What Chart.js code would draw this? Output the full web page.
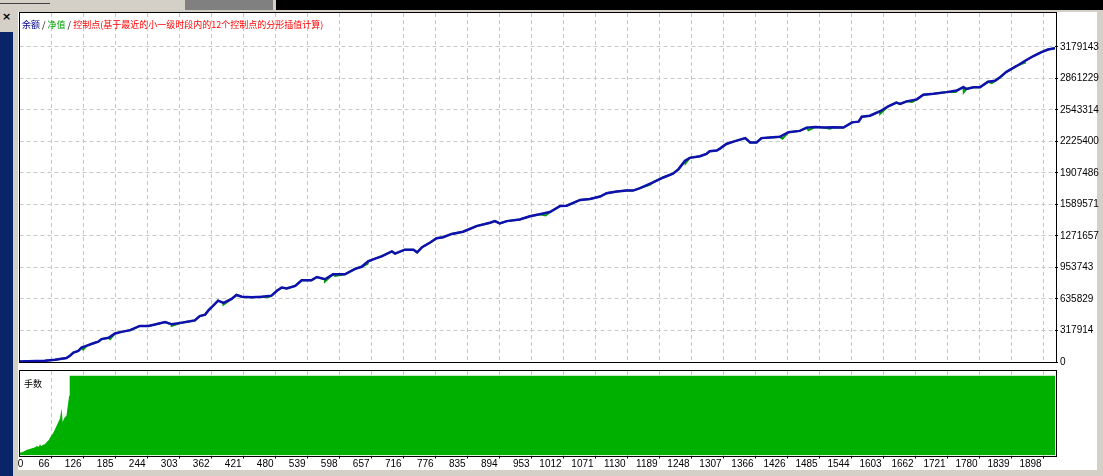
<!DOCTYPE html>
<html>
<head>
<meta charset="utf-8">
<script src="https://cdn.jsdelivr.net/npm/chart.js@4.4.1/dist/chart.umd.min.js"></script>
<style>
  html, body { margin: 0; padding: 0; }
  body { width: 1103px; height: 476px; position: relative; overflow: hidden; background: #d4d0c8; }
  .abs { position: absolute; }
  #navy { left: 0; top: 32px; width: 13px; height: 444px; background: #0a246a; }
  #close { left: 2px; top: 10px; font: bold 11px 'DejaVu Sans', sans-serif; color: #000; }
  #topLeft { left: 0; top: 0; width: 185px; height: 10px; background: #d4d0c8; }
  #topBox { left: 0; top: 0; width: 50px; height: 3px; border-bottom: 1px solid #404040; }
  #topMid { left: 185px; top: 0; width: 88px; height: 10px; background: #808080; }
  #topStrip { left: 276px; top: 0; width: 827px; height: 10px; background: #000; }
  #sheet { left: 18px; top: 12px; width: 1079px; height: 458px; background: #fff; }
  canvas { position: absolute; left: 0; }
  #main { top: 0; }
  #lots { top: 368px; }
  #title { left: 22px; top: 18px; font: 9px 'Noto Sans CJK SC', sans-serif; line-height: 13px; white-space: pre; }
  #lotsLabel { left: 24px; top: 377px; font: 9px 'Noto Sans CJK SC', sans-serif; line-height: 13px; color: #000; }
</style>
</head>
<body>
<div id="navy" class="abs"></div>
<div id="close" class="abs">×</div>
<div id="topLeft" class="abs"></div>
<div id="topBox" class="abs"></div>
<div id="topMid" class="abs"></div>
<div id="topStrip" class="abs"></div>
<div id="sheet" class="abs"></div>
<canvas id="main" width="1103" height="370"></canvas>
<canvas id="lots" width="1103" height="108"></canvas>
<div id="title" class="abs"><span style="color:#00008b">余额</span> / <span style="color:#00a000">净值</span> / <span style="color:#ff0000">控制点(基于最近的小一级时段内的12个控制点的分形插值计算)</span></div>
<div id="lotsLabel" class="abs">手数</div>
<script>
// trade-number axis
const tradeCount = 1919;
const xTickLabels = ['0', '66', '126', '185', '244', '303', '362', '421', '480', '539', '598',
  '657', '716', '776', '835', '894', '953', '1012', '1071', '1130', '1189', '1248', '1307',
  '1366', '1426', '1485', '1544', '1603', '1662', '1721', '1780', '1839', '1898'];
const xTickStep = 1898 / 32;

// balance axis
const yTickValues = [0, 317914, 635829, 953743, 1271657, 1589571, 1907486, 2225400,
  2543314, 2861229, 3179143];

// [trade, balance]
const balance = [
  [0, 5000], [47, 12900], [66, 22800], [78, 32800], [87, 39700], [94, 65600], [100, 95400],
  [109, 112000], [115, 145000], [125, 165000], [137, 189000], [146, 205000], [152, 231000],
  [165, 244000], [177, 288000], [189, 304000], [205, 321000], [223, 364000], [239, 364000],
  [251, 378000], [270, 403000], [282, 380000], [301, 397000], [316, 410000], [325, 420000],
  [334, 463000], [344, 477000], [350, 520000], [359, 569000], [368, 619000], [378, 596000],
  [393, 636000], [402, 676000], [412, 659000], [430, 652000], [449, 659000], [467, 669000],
  [477, 718000], [486, 751000], [495, 741000], [511, 768000], [523, 825000], [541, 825000],
  [551, 857000], [566, 835000], [581, 884000], [603, 884000], [622, 940000], [634, 960000],
  [646, 1016000], [659, 1043000], [671, 1066000], [690, 1116000], [696, 1093000],
  [714, 1133000], [730, 1133000], [737, 1106000], [746, 1158000], [761, 1205000],
  [773, 1248000], [785, 1258000], [801, 1292000], [822, 1314000], [847, 1371000],
  [872, 1404000], [881, 1421000], [890, 1397000], [903, 1421000], [927, 1437000],
  [946, 1470000], [964, 1490000], [983, 1513000], [1002, 1573000], [1014, 1576000],
  [1039, 1635000], [1057, 1645000], [1076, 1669000], [1088, 1702000], [1107, 1719000],
  [1125, 1729000], [1137, 1729000], [1150, 1754000], [1174, 1811000], [1193, 1861000],
  [1211, 1900000], [1221, 1943000], [1233, 2027000], [1242, 2059000], [1261, 2076000],
  [1273, 2099000], [1279, 2126000], [1292, 2132000], [1298, 2152000], [1310, 2199000],
  [1323, 2223000], [1345, 2258000], [1354, 2215000], [1366, 2215000], [1375, 2258000],
  [1391, 2265000], [1409, 2271000], [1425, 2318000], [1446, 2331000], [1459, 2364000],
  [1474, 2370000], [1490, 2364000], [1508, 2367000], [1527, 2364000], [1543, 2417000],
  [1555, 2424000], [1561, 2474000], [1576, 2484000], [1595, 2529000], [1610, 2579000],
  [1625, 2616000], [1632, 2603000], [1644, 2629000], [1663, 2649000], [1675, 2695000],
  [1694, 2705000], [1718, 2722000], [1737, 2738000], [1749, 2772000], [1755, 2755000],
  [1768, 2772000], [1780, 2772000], [1795, 2827000], [1808, 2837000], [1817, 2871000],
  [1829, 2927000], [1848, 2986000], [1863, 3036000], [1879, 3086000], [1894, 3125000],
  [1906, 3152000], [1919, 3165000]
];

// equity dips that show below the balance line [trade, equity]
const equityDips = [
  [118, 125000], [168, 230000], [282, 365000], [378, 580000], [462, 655000], [566, 812000],
  [585, 868000], [645, 990000], [975, 1478000], [1169, 1790000], [1234, 2003000],
  [1414, 2252000], [1462, 2338000], [1502, 2352000], [1595, 2505000], [1654, 2622000],
  [1735, 2722000], [1750, 2722000], [1802, 2812000], [1862, 3018000]
];

// [trade, lots]
const lots = [
  [0, 3.5], [6, 4.5], [13, 6.8], [19, 8.0], [25, 9.4], [29, 10.5], [32, 12.0], [36, 11.0],
  [38, 14.4], [40, 11.5], [44, 13.5], [47, 14.0], [50, 16.5], [54, 19.0], [57, 22.8],
  [63, 29.0], [69, 37.6], [75, 46.5], [78, 59.0], [80, 42.0], [83, 47.0], [87, 50.0],
  [90, 65.0], [92, 75.0], [93, 100], [1919, 100]
];

const uiFont = { family: "'Liberation Sans', 'DejaVu Sans', sans-serif", size: 10 };
const gridColor = '#c8c8c8';

const frame = {
  id: 'frame',
  afterDatasetsDraw(chart) {
    const a = chart.chartArea;
    const c = chart.ctx;
    c.save();
    c.strokeStyle = '#000';
    c.lineWidth = 1;
    c.strokeRect(Math.round(a.left) - 0.5, Math.round(a.top) - 0.5,
      Math.round(a.right - a.left) + 1, Math.round(a.bottom - a.top) + 1);
    c.restore();
  }
};

function setXTicks(scale) {
  scale.ticks = xTickLabels.map((l, k) => ({ value: k === 0 ? 11 : k * xTickStep }));
}

function toPoints(rows) {
  return rows.map(r => ({ x: r[0], y: r[1] }));
}

const equity = balance.concat(equityDips).sort((a, b) => a[0] - b[0]);

new Chart(document.getElementById('main'), {
  type: 'line',
  data: {
    datasets: [{
      label: '余额',
      data: toPoints(balance),
      borderColor: '#1010b0',
      borderWidth: 2.5,
      pointRadius: 0,
      tension: 0
    }, {
      label: '净值',
      data: toPoints(equity),
      borderColor: '#00a000',
      borderWidth: 2,
      pointRadius: 0,
      tension: 0
    }]
  },
  options: {
    responsive: false,
    animation: false,
    layout: { padding: { left: 19.5, top: 13, right: 0, bottom: 2.5 } },
    plugins: { legend: { display: false }, tooltip: { enabled: false } },
    scales: {
      x: {
        type: 'linear', min: 0, max: tradeCount,
        afterBuildTicks: setXTicks,
        afterFit: s => { s.height = 0; },
        border: { display: false, dash: [4, 3] },
        grid: { drawTicks: false, color: ctx => ctx.index === 0 ? 'rgba(0,0,0,0)' : gridColor },
        ticks: { display: false }
      },
      y: {
        position: 'right', min: 0, max: 3520000,
        afterBuildTicks: s => { s.ticks = yTickValues.map(v => ({ value: v })); },
        afterFit: s => { s.width = 48; },
        border: { display: false, dash: [4, 3] },
        grid: {
          drawTicks: true, tickLength: 3, tickColor: '#000',
          color: ctx => (ctx.tick && ctx.tick.value === 0) ? 'rgba(0,0,0,0)' : gridColor
        },
        ticks: { color: '#000', font: uiFont, padding: 2, callback: v => String(v) }
      }
    }
  },
  plugins: [frame]
});

new Chart(document.getElementById('lots'), {
  type: 'line',
  data: {
    datasets: [{
      label: '手数',
      data: toPoints(lots),
      borderWidth: 0,
      borderColor: '#00b000',
      backgroundColor: '#00b000',
      fill: 'origin',
      pointRadius: 0,
      tension: 0
    }]
  },
  options: {
    responsive: false,
    animation: false,
    layout: { padding: { left: 19.5, top: 3, right: 48, bottom: 0 } },
    plugins: { legend: { display: false }, tooltip: { enabled: false } },
    scales: {
      x: {
        type: 'linear', min: 0, max: tradeCount,
        afterBuildTicks: setXTicks,
        afterFit: s => { s.height = 20.5; },
        border: { display: false, dash: [4, 3] },
        grid: {
          drawTicks: true, tickLength: 3,
          tickColor: ctx => ctx.index === 0 ? 'rgba(0,0,0,0)' : '#000',
          color: ctx => ctx.index === 0 ? 'rgba(0,0,0,0)' : gridColor
        },
        ticks: {
          align: 'end', autoSkip: false, maxRotation: 0, padding: 0, labelOffset: -2,
          color: '#000', font: uiFont,
          callback: (v, i) => xTickLabels[i]
        }
      },
      y: { display: false, min: 0, max: 106 }
    }
  },
  plugins: [frame]
});
</script>
</body>
</html>
